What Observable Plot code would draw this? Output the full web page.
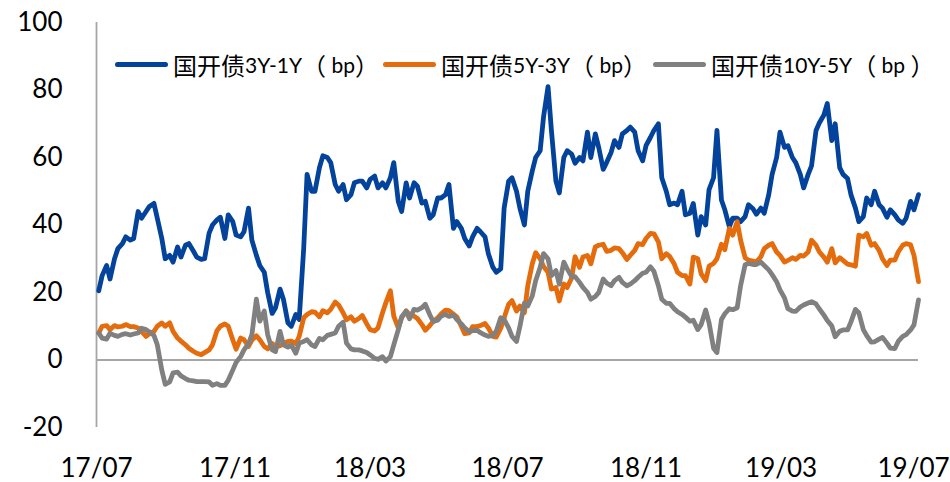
<!DOCTYPE html>
<html>
<head>
<meta charset="utf-8">
<script src="https://cdn.jsdelivr.net/npm/d3@7"></script>
<script src="https://cdn.jsdelivr.net/npm/@observablehq/plot@0.6"></script>
<style>
  html, body { margin: 0; padding: 0; background: #fff; }
  #wrap { position: relative; width: 950px; height: 482px; overflow: hidden; }
  .lg { position: absolute; top: 49px; height: 30px; display: flex; align-items: center; white-space: nowrap;
        font-family: Lato, "Noto Sans CJK SC", sans-serif; font-size: 21px; color: #000; }
  .sw { display: inline-block; width: 53px; height: 5px; border-radius: 3px; margin-right: 5px; }
  .c { font-family: "Noto Sans CJK SC", sans-serif; font-size: 24px; }
</style>
</head>
<body>
<div id="wrap"></div>
<script>
// Trading-day sample dates (twice weekly), by month
const sampleDays = [
  ["2017-07", [3,6,10,13,17,20,24,27,31]],
  ["2017-08", [3,7,10,14,17,21,24,28,31]],
  ["2017-09", [4,7,11,14,18,21,25,28]],
  ["2017-10", [2,5,9,12,16,19,23,26,30]],
  ["2017-11", [2,6,9,13,16,20,23,27,30]],
  ["2017-12", [4,7,11,14,18,21,25,28]],
  ["2018-01", [1,4,8,11,15,18,22,25,29]],
  ["2018-02", [1,5,8,12,15,19,22,26]],
  ["2018-03", [1,5,8,12,15,19,22,26,29]],
  ["2018-04", [2,5,9,12,16,19,23,26,30]],
  ["2018-05", [3,7,10,14,17,21,24,28,31]],
  ["2018-06", [4,7,11,14,18,21,25,28]],
  ["2018-07", [2,5,9,12,16,19,23,26,30]],
  ["2018-08", [2,6,9,13,16,20,23,27,30]],
  ["2018-09", [3,6,10,13,17,20,24,27]],
  ["2018-10", [1,4,8,11,15,18,22,25,29]],
  ["2018-11", [1,5,8,12,15,19,22,26,29]],
  ["2018-12", [3,6,10,13,17,20,24,27,31]],
  ["2019-01", [3,7,10,14,17,21,24,28,31]],
  ["2019-02", [4,7,11,14,18,21,25,28]],
  ["2019-03", [4,7,11,14,18,21,25,28]],
  ["2019-04", [1,4,8,11,15,18,22,25,29]],
  ["2019-05", [2,6,9,13,16,20,23,27,30]],
  ["2019-06", [3,6,10,13,17,20,24,27]],
  ["2019-07", [1]]
];

// 国开债3Y-1Y (bp)
const spread3y1y = [
  20.5,25,28,24,30,33,34.5,36.5,35.5,36,
  44,42,44,45.5,46.4,42,36,30,31,29,
  33.5,30.5,34,34.5,32.3,30.5,29.8,30,37.6,40,
  41.5,42.3,36,43,41,37,36.5,38,45,35.5,
  31,28,26,20,13.8,15.5,21,18,11,10,
  13.5,12,33,55,50,50,57,60.5,60,58.5,
  52,50,52,47.5,49,52.5,53,53,51,53.5,
  54.5,51,52.5,51,54,58.5,47,44,52.5,48,
  52.5,51.5,46.5,47,42,43,48,48,49,52,
  39,41,39,36,33.8,36.5,39,38,36.5,31.5,
  27.5,26,27,45,53,54,50,45,40,50,
  56,60,62,72,81,68,53,49.5,60,62,
  61,58.3,60,59,67.5,60,67,63,56.5,58.5,
  61.5,65,63,67,68,69,67.5,62,59,63.5,
  66,68,70,54,50,46,46.5,46,50,43,
  43.5,46.4,37,42.5,40,50.5,54,68,47.4,44.5,
  39.5,42,42,41,42.5,46,44.8,43.2,45,43.5,
  49,55,60,67.5,63,63.5,60,58.5,55,51,
  55,57.5,68,70.3,72.6,76,65,70,57,55,
  53.8,49,45,41,42.5,48,46,50,46,45,
  42.3,44.5,43,41.5,40.5,42,47,44.5,49
];

// 国开债5Y-3Y (bp)
const spread5y3y = [
  8,10,10.2,9,10.2,9.8,10,10.5,9.9,9.9,
  9.5,8.5,7,7.8,8.5,10,11,10,11,8.5,
  6.5,5.6,4.5,3.5,2.6,2,1.6,2.2,3,4.5,
  8.7,10,10.7,10,6,3.2,6.5,6,4,5.9,
  7.2,6,4,3.3,4.9,3.8,4.2,4.9,5.5,5.6,
  4.8,7,12.5,13.5,14.3,14.2,12.8,14.6,14,15,
  17.2,16.3,14,11.9,12.8,11.5,12.3,13.2,10.7,9,
  8.6,9.5,14,17,20.5,13,9.5,12.5,14.6,13.4,
  13,12.3,10.5,8.8,10.2,11.4,12.5,13.6,14.8,14.6,
  13.6,12.8,10,7.8,8,9.9,9.9,10.2,10.8,9.5,
  7,6.8,9.4,12.5,16.5,17.6,14.5,16,14,22,
  28.5,31.8,30,27.7,26,21,21.5,17.5,22.5,21.5,
  24.3,30.6,27.5,30.5,31,28.5,33.5,34,34.3,32.2,
  32.5,33.2,33,31.8,29.8,31,32.5,34.5,34.2,36,
  37.5,37.4,35,30,31.5,30.7,28.5,26,25,25,
  22.5,30.5,30,25.5,23.5,27.8,28.6,30,34.3,32.7,
  39,37,41,35.5,30.3,29.6,29.3,29,30.6,33,
  34,34.5,32,31,29,29.5,30.3,29.8,31,30.8,
  32,35.5,34,32,30.5,29,33,28.8,30.3,29.5,
  28.4,28.2,27.8,37,36.5,37.5,34,34.5,32.5,30,
  28,29.6,29.6,32,34,34.5,34.1,31,23.2
];

// 国开债10Y-5Y (bp)
const spread10y5y = [
  8,6.5,6.2,7.9,7.3,7,7.6,7.8,7.4,7.7,
  8,9.4,9,8.3,7.3,4.5,-3,-7.2,-6.5,-3.8,
  -3.6,-4.7,-5.5,-6,-6.2,-6.4,-6.4,-6.4,-6.5,-7.5,
  -7,-7.5,-7.5,-6,-3,-0.7,1,3,4.8,7.5,
  18,11.5,14.5,7.5,3,2.5,8.5,4.5,3.8,4.4,
  2,5,5.5,6,4.5,4,6.4,6,7.3,7.6,
  8,10,11.2,5,3.3,3,3,2.7,2.2,1.5,
  0.5,0.2,1,-0.3,1,4.5,9,12.8,14.4,12.2,
  15,14.8,15.5,16.5,13.4,11.4,11.8,13,13.5,12.9,
  13.3,12,10.7,9.5,8.4,8.7,8.8,8.1,7.4,7,
  7.3,8.5,12.5,12,9.5,7,5.5,9.9,16.8,16,
  19,23.5,27.5,31.5,30,25,26.5,22.5,29,27,
  24.7,24.7,23,21.5,20,18,18.8,20,24,22.8,
  22,23.5,24.5,23,22,22.5,23.5,24.5,25.7,26,
  27.6,26.3,22,18,16.8,16.8,15.2,14.3,13.5,12.7,
  11.5,11.8,9,10.5,14.8,11,3.5,2.2,12,13.7,
  15.2,14.9,15.5,22,28.2,28.6,28.3,28.3,29,28,
  26.7,25.3,23.2,20.8,18.4,15.2,14.5,14.4,15.7,16.3,
  16.9,17.3,16.6,15.1,13.3,11.7,10.1,6.9,8.5,8.9,
  8.9,11.3,15,14,9,7.2,5.3,5.4,6.2,6.7,
  5,3.5,3.4,5.5,7,7.5,8.9,10.4,17.8
];

const seriesNames = ["国开债3Y-1Y（ bp）", "国开债5Y-3Y（ bp）", "国开债10Y-5Y（ bp ）"];
const seriesColors = ["#03439B", "#E56C0C", "#808080"];

const xTickDates = ["2017-07-01","2017-11-01","2018-03-01","2018-07-01","2018-11-01","2019-03-01","2019-07-01"];
const xTickLabels = ["17/07","17/11","18/03","18/07","18/11","19/03","19/07"];
const yTicks = [-20, 0, 20, 40, 60, 80, 100];
const yTickLabels = ["-20","0","20","40","60","80","100"];

const dates = sampleDays.flatMap(([m, days]) => days.map(d => new Date(`${m}-${String(d).padStart(2,"0")}T00:00:00Z`)));
const allSeries = [spread3y1y, spread5y3y, spread10y5y];
const rows = allSeries.map((vals, s) => dates.map((date, i) => ({date, v: vals[i], s})));

const xStart = new Date("2017-07-01T00:00:00Z");
const xEnd = new Date("2019-07-01T00:00:00Z");
const tickD = xTickDates.map(d => new Date(d + "T00:00:00Z"));
const labelOf = new Map(tickD.map((d, i) => [+d, xTickLabels[i]]));
const yLabelOf = new Map(yTicks.map((t, i) => [t, yTickLabels[i]]));

const chart = Plot.plot({
  width: 950,
  height: 482,
  marginLeft: 96,
  marginRight: 32,
  marginTop: 22,
  marginBottom: 55,
  x: {type: "utc", domain: [xStart, xEnd]},
  y: {domain: [-20, 100]},
  style: {fontFamily: "Lato, sans-serif", fontSize: "26px", color: "#000", background: "#fff", overflow: "visible"},
  marks: [
    Plot.ruleX([xStart], {y1: -20, y2: 100, stroke: "#A6A6A6", strokeWidth: 1.8}),
    Plot.ruleY([0], {stroke: "#A6A6A6", strokeWidth: 1.8}),
    Plot.axisY({ticks: yTicks, tickSize: 0, tickPadding: 34, tickFormat: d => yLabelOf.get(d), label: null, fontSize: 26}),
    Plot.axisX({ticks: tickD.slice(0, 6), tickSize: 0, tickPadding: 31, tickFormat: d => labelOf.get(+d), label: null, fontSize: 26}),
    Plot.axisX({ticks: tickD.slice(6), tickSize: 0, tickPadding: 31, tickFormat: d => labelOf.get(+d), label: null, fontSize: 26, dx: -5}),
    ...rows.map((r, s) => Plot.line(r, {x: "date", y: "v", stroke: seriesColors[s], strokeWidth: 4.8, strokeLinejoin: "round", strokeLinecap: "round"}))
  ]
});

const wrap = document.getElementById("wrap");
wrap.appendChild(chart);

// Legend (HTML overlay)
const legendLeft = [115, 383, 653];
const legendParts = [
  ["国开债", "3Y-1Y", "（", " bp", "）"],
  ["国开债", "5Y-3Y", "（", " bp", "）"],
  ["国开债", "10Y-5Y", "（", " bp ", "）"]
];
legendParts.forEach((p, i) => {
  const div = document.createElement("div");
  div.className = "lg";
  div.style.left = legendLeft[i] + "px";
  div.title = seriesNames[i];
  div.innerHTML = `<span class="sw" style="background:${seriesColors[i]}"></span>` +
    `<span class="c">${p[0]}</span><span>${p[1]}</span><span class="c">${p[2]}</span><span style="white-space:pre">${p[3]}</span><span class="c">${p[4]}</span>`;
  wrap.appendChild(div);
});
</script>
</body>
</html>
